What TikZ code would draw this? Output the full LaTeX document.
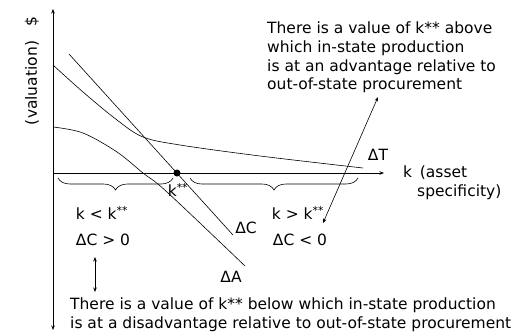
\documentclass[tikz,border=0pt]{standalone}
\usepackage{fontspec}
\setmainfont{DejaVu Sans}
\usetikzlibrary{arrows.meta,positioning,decorations.pathreplacing}
\tikzset{
    curve/.style={line width=0.6pt},
    arrow/.style={line width=0.6pt, -{Stealth[length=4.5pt,width=3.5pt]}},
    twoarrow/.style={line width=0.6pt, {Stealth[length=4.5pt,width=3.5pt]}-{Stealth[length=4.5pt,width=3.5pt]}},
    brace/.style={line width=0.6pt, decorate, decoration={brace, mirror, amplitude=12pt}},
    label/.style={font=\fontsize{15.5}{18.8}\selectfont, inner sep=0pt},
    note/.style={label, align=left, anchor=north west},
    dot/.style={circle, fill=black, inner sep=0pt, minimum size=7pt}
}
\begin{document}
\begin{tikzpicture}[x=1pt, y=-1pt]
    \useasboundingbox (0,0) rectangle (517,332);

    % Axes
    \coordinate (ytop) at (53,9);
    \coordinate (ybottom) at (53,330);
    \coordinate (origin) at (53,173);
    \coordinate (xend) at (384,173);
    \draw[twoarrow] (ybottom) -- (ytop);
    \draw[arrow] (origin) -- (xend);
    \node[label, rotate=90] (dollar) at (32,22) {\$};
    \node[label, rotate=90] (valuation) at (32,83) {(valuation)};
    \node[label, anchor=west] (kaxis) at (403,173) {k\enspace(asset};
    \node[label, anchor=west] (kspec) at (417,192) {specificity)};

    % Curves
    \draw[curve] plot[smooth, tension=0.55] coordinates
        {(53,65) (83,92) (117,120) (143,137) (180,145) (260,156) (363,168)};
    \draw[curve] plot[smooth, tension=0.55] coordinates
        {(53,127) (83,133) (117,152) (143,173) (167,192) (245,266)};
    \coordinate (cstart) at (69,54);
    \coordinate (cend) at (233,235);
    \draw[curve] (cstart) -- (cend);
    \node[label] (dT) at (378,155) {ΔT};
    \node[label] (dC) at (246,228) {ΔC};
    \node[label] (dA) at (231,277) {ΔA};

    % Crossing point
    \node[dot] (kstar) at (177,173) {};
    \node[label] (kstarlabel) at (178,190) {k\textsuperscript{**}};

    % Ranges
    \draw[brace] (58,178) -- (173,178);
    \draw[brace] (190,178) -- (358,178);
    \node[label] (kless) at (102,213) {k < k\textsuperscript{**}};
    \node[label] (dCpos) at (103,240) {ΔC > 0};
    \node[label] (kmore) at (298,213) {k > k\textsuperscript{**}};
    \node[label] (dCneg) at (300,240) {ΔC < 0};

    % Notes
    \node[note] (above) at (267,21.5) {There is a value of k** above\\which in-state production\\is at an advantage relative to\\out-of-state procurement};
    \node[note] (below) at (70,298) {There is a value of k** below which in-state production\\is at a disadvantage relative to out-of-state procurement};
    \coordinate (upA) at (378,97);
    \coordinate (upB) at (323,223);
    \draw[twoarrow] (upB) -- (upA);
    \coordinate (lowA) at (95,257);
    \coordinate (lowB) at (95,292);
    \draw[twoarrow] (lowA) -- (lowB);
\end{tikzpicture}
\end{document}
